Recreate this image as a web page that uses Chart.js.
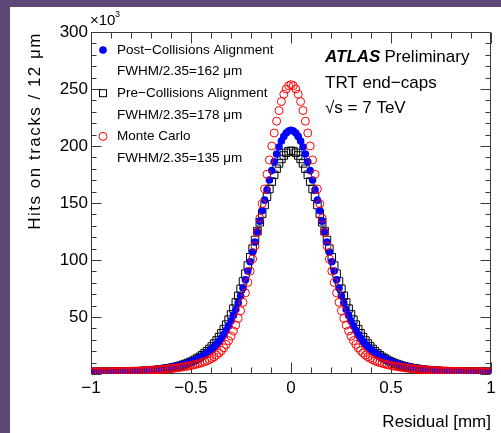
<!DOCTYPE html>
<html>
<head>
<meta charset="utf-8">
<script src="https://cdn.jsdelivr.net/npm/chart.js@4.4.0/dist/chart.umd.min.js"></script>
<style>
  html, body { margin:0; padding:0; background:#fff; }
  body { width:501px; height:433px; overflow:hidden; position:relative; }
  #wrap { position:absolute; left:0; top:0; width:491px; height:426px; background:#fff;
          border-left:10px solid #5f4878; border-top:7px solid #5f4878; }
  canvas { display:block; }
</style>
</head>
<body>
<div id="wrap"><canvas id="c" width="491" height="426"></canvas></div>
<script>
// ====== DATA (x10^3 hits per 12 um bin) ======
const residual = [-0.996,-0.984,-0.972,-0.96,-0.948,-0.936,-0.924,-0.912,-0.9,-0.888,-0.876,-0.864,-0.852,-0.84,-0.828,-0.816,-0.804,-0.792,-0.78,-0.768,-0.756,-0.744,-0.732,-0.72,-0.708,-0.696,-0.684,-0.672,-0.66,-0.648,-0.636,-0.624,-0.612,-0.6,-0.588,-0.576,-0.564,-0.552,-0.54,-0.528,-0.516,-0.504,-0.492,-0.48,-0.468,-0.456,-0.444,-0.432,-0.42,-0.408,-0.396,-0.384,-0.372,-0.36,-0.348,-0.336,-0.324,-0.312,-0.3,-0.288,-0.276,-0.264,-0.252,-0.24,-0.228,-0.216,-0.204,-0.192,-0.18,-0.168,-0.156,-0.144,-0.132,-0.12,-0.108,-0.096,-0.084,-0.072,-0.06,-0.048,-0.036,-0.024,-0.012,
  0,
  0.012,0.024,0.036,0.048,0.06,0.072,0.084,0.096,0.108,0.12,0.132,0.144,0.156,0.168,0.18,0.192,0.204,0.216,0.228,0.24,0.252,0.264,0.276,0.288,0.3,0.312,0.324,0.336,0.348,0.36,0.372,0.384,0.396,0.408,0.42,0.432,0.444,0.456,0.468,0.48,0.492,0.504,0.516,0.528,0.54,0.552,0.564,0.576,0.588,0.6,0.612,0.624,0.636,0.648,0.66,0.672,0.684,0.696,0.708,0.72,0.732,0.744,0.756,0.768,0.78,0.792,0.804,0.816,0.828,0.84,0.852,0.864,0.876,0.888,0.9,0.912,0.924,0.936,0.948,0.96,0.972,0.984,0.996];

const postAlign = [1.9,1.9,1.9,1.9, 1.9,1.9,1.9,2.0,2.0,2.0,2.0,2.1,2.1,2.2, 2.2,2.3,2.4,2.4,2.5,2.6,2.7,2.9,3.0,3.1,
  3.3,3.5,3.7,3.9,4.2,4.4,4.7,5.1,5.4,5.8, 6.2,6.7,7.2,7.7,8.3,9.0,9.7,10.4,11.2,12.2,
  13.2,14.3,15.5,16.8,18.3,20.0,21.8,23.8,26.1,28.7, 31.5,34.7,38.3,42.2,46.5,51.4,56.6,62.4,68.6,75.4,
  82.6,90.3,98.5,107.0,115.8,124.9,134.1,143.3,152.5,161.5, 170.2,178.4,186.1,193.0,199.1,204.3,208.4,211.4,213.2,
  213.8,
  213.2,211.4,208.4,204.3,199.1,193.0,186.1,178.4,170.2, 161.5,152.5,143.3,134.1,124.9,115.8,107.0,98.5,90.3,82.6,
  75.4,68.6,62.4,56.6,51.4,46.5,42.2,38.3,34.7,31.5, 28.7,26.1,23.8,21.8,20.0,18.3,16.8,15.5,14.3,13.2,
  12.2,11.2,10.4,9.7,9.0,8.3,7.7,7.2,6.7,6.2, 5.8,5.4,5.1,4.7,4.4,4.2,3.9,3.7,3.5,3.3,
  3.1,3.0,2.9,2.7,2.6,2.5,2.4,2.4,2.3,2.2, 2.2,2.1,2.1,2.0,2.0,2.0,2.0,1.9,1.9,1.9, 1.9,1.9,1.9,1.9];

const preAlign = [1.8,1.8,1.9,1.9, 1.9,1.9,1.9,1.9,1.9,2.0,2.0,2.0,2.0,2.1, 2.1,2.2,2.2,2.3,2.4,2.4,2.5,2.6,2.8,2.9,
  3.0,3.2,3.4,3.6,3.8,4.1,4.4,4.7,5.0,5.4, 5.9,6.3,6.8,7.4,8.1,8.8,9.6,10.5,11.4,12.5,
  13.7,15.0,16.5,18.1,20.0,22.0,24.2,26.7,29.4,32.4, 35.7,39.4,43.3,47.7,52.3,57.4,62.8,68.6,74.7,81.2,
  88.0,95.1,102.4,110.0,117.6,125.4,133.1,140.7,148.2,155.5, 162.3,168.8,174.7,180.1,184.7,188.6,191.7,194.0,195.4,
  195.8,
  195.4,194.0,191.7,188.6,184.7,180.1,174.7,168.8,162.3, 155.5,148.2,140.7,133.1,125.4,117.6,110.0,102.4,95.1,88.0,
  81.2,74.7,68.6,62.8,57.4,52.3,47.7,43.3,39.4,35.7, 32.4,29.4,26.7,24.2,22.0,20.0,18.1,16.5,15.0,13.7,
  12.5,11.4,10.5,9.6,8.8,8.1,7.4,6.8,6.3,5.9, 5.4,5.0,4.7,4.4,4.1,3.8,3.6,3.4,3.2,3.0,
  2.9,2.8,2.6,2.5,2.4,2.4,2.3,2.2,2.2,2.1, 2.1,2.0,2.0,2.0,2.0,1.9,1.9,1.9,1.9,1.9, 1.9,1.9,1.8,1.8];

const monteCarlo = [1.9,1.9,1.9,1.9, 2.0,2.0,2.0,2.0,2.0,2.1,2.1,2.2,2.2,2.2, 2.3,2.3,2.4,2.5,2.6,2.6,2.7,2.8,2.9,3.0,
  3.2,3.3,3.4,3.6,3.8,3.9,4.1,4.3,4.6,4.8, 5.0,5.3,5.6,5.9,6.2,6.6,6.9,7.3,7.8,8.3,
  8.8,9.4,10.0,10.8,11.6,12.6,13.7,15.1,16.6,18.4, 20.5,23.0,25.9,29.3,33.2,37.7,42.9,48.8,55.5,62.9,
  71.2,80.3,90.2,100.9,112.2,124.2,136.6,149.4,162.3,175.2, 187.8,200.0,211.4,221.8,231.1,239.0,245.4,250.0,252.9,
  253.8,
  252.9,250.0,245.4,239.0,231.1,221.8,211.4,200.0,187.8, 175.2,162.3,149.4,136.6,124.2,112.2,100.9,90.2,80.3,71.2,
  62.9,55.5,48.8,42.9,37.7,33.2,29.3,25.9,23.0,20.5, 18.4,16.6,15.1,13.7,12.6,11.6,10.8,10.0,9.4,8.8,
  8.3,7.8,7.3,6.9,6.6,6.2,5.9,5.6,5.3,5.0, 4.8,4.6,4.3,4.1,3.9,3.8,3.6,3.4,3.3,3.2,
  3.0,2.9,2.8,2.7,2.6,2.6,2.5,2.4,2.3,2.3, 2.2,2.2,2.2,2.1,2.1,2.0,2.0,2.0,2.0,2.0, 1.9,1.9,1.9,1.9];

// axis ticks
const xMajorTicks = [-1, -0.5, 0, 0.5, 1];
const xMinorTicks = [-0.9,-0.8,-0.7,-0.6,-0.4,-0.3,-0.2,-0.1,0.1,0.2,0.3,0.4,0.6,0.7,0.8,0.9];
const yMajorTicks = [0, 50, 100, 150, 200, 250, 300];
const yMinorTicks = [10,20,30,40,60,70,80,90,110,120,130,140,160,170,180,190,210,220,230,240,260,270,280,290];

const yTitle = 'Hits on tracks / 12 \u03bcm';
const legendLines = ['Post\u2212Collisions Alignment', 'FWHM/2.35=162 \u03bcm',
                     'Pre\u2212Collisions Alignment', 'FWHM/2.35=178 \u03bcm',
                     'Monte Carlo', 'FWHM/2.35=135 \u03bcm'];

// ====== HELPERS ======
const FONT = '"Liberation Sans", Arial, Helvetica, sans-serif';
const byId = (id) => document.getElementById(id);
const pts = (ys) => residual.map((x, i) => ({ x, y: ys[i] }));
const fmtX = (v) => v < 0 ? '\u2212' + Math.abs(v) : String(v);

// ROOT-like frame: box + inward ticks on all four sides
const rootFrame = {
  id: 'rootFrame',
  beforeDatasetsDraw(chart){
    const ctx = chart.ctx, xs = chart.scales.x, ys = chart.scales.y;
    const { left, right, top, bottom } = chart.chartArea;
    const L = Math.round(left) + 0.5, R = Math.round(right) - 0.5;
    const T = Math.round(top) + 0.5, B = Math.round(bottom) - 0.5;
    ctx.save();
    ctx.strokeStyle = '#3a3a3a'; ctx.lineWidth = 1;
    ctx.beginPath();
    ctx.rect(L, T, R - L, B - T);
    const vt = (v, len) => {
      const p = Math.round(xs.getPixelForValue(v)) + 0.5;
      ctx.moveTo(p, B); ctx.lineTo(p, B - len);
      ctx.moveTo(p, T); ctx.lineTo(p, T + len);
    };
    const ht = (v, len) => {
      const p = Math.round(ys.getPixelForValue(v)) + 0.5;
      ctx.moveTo(L, p); ctx.lineTo(L + len, p);
      ctx.moveTo(R, p); ctx.lineTo(R - len, p);
    };
    xMajorTicks.forEach(v => vt(v, 11));
    xMinorTicks.forEach(v => vt(v, 6));
    yMajorTicks.forEach(v => ht(v, 10));
    yMinorTicks.forEach(v => ht(v, 5));
    ctx.stroke();
    ctx.restore();
  },
  afterDraw(chart){
    const ctx = chart.ctx;
    const { top } = chart.chartArea;
    ctx.save();
    ctx.fillStyle = '#000';

    // y title, right-aligned to the top of the frame (ROOT style, wide spacing)
    ctx.save();
    ctx.translate(25, top);
    ctx.rotate(-Math.PI / 2);
    ctx.font = `17px ${FONT}`;
    ctx.letterSpacing = '1.5px';
    ctx.textAlign = 'right'; ctx.textBaseline = 'middle';
    ctx.fillText(yTitle, 0, 0);
    ctx.restore();

    // x10^3 exponent
    ctx.textBaseline = 'alphabetic'; ctx.textAlign = 'left';
    ctx.font = `15px ${FONT}`;
    ctx.fillText('\u00d710', 80, 18);
    ctx.font = `9px ${FONT}`;
    ctx.fillText('3', 105, 10);

    // legend
    const mx = 93, rows = [43, 64.6, 86.2, 107.8, 129.4, 151];
    ctx.font = `13.5px ${FONT}`;
    ctx.textBaseline = 'middle';
    legendLines.forEach((t, i) => ctx.fillText(t, 107, rows[i]));
    ctx.fillStyle = '#0000ff';
    ctx.beginPath(); ctx.arc(mx, rows[0], 3.8, 0, Math.PI * 2); ctx.fill();
    ctx.strokeStyle = '#000'; ctx.lineWidth = 1;
    ctx.strokeRect(mx - 3.5, rows[2] - 3.5, 7, 7);
    ctx.strokeStyle = '#ff0000';
    ctx.beginPath(); ctx.arc(mx, rows[4], 4, 0, Math.PI * 2); ctx.stroke();

    // ATLAS label
    ctx.fillStyle = '#000';
    ctx.textBaseline = 'alphabetic';
    ctx.font = `italic bold 17px ${FONT}`;
    ctx.fillText('ATLAS', 315, 54.5);
    const w = ctx.measureText('ATLAS').width;
    ctx.font = `17px ${FONT}`;
    ctx.fillText('Preliminary', 315 + w + 4, 54.5);
    ctx.fillText('TRT end\u2212caps', 315, 80.5);
    ctx.fillText('\u221as = 7 TeV', 315, 106);
    ctx.restore();
  }
};

// ====== CHART ======
const chart = new Chart(byId('c'), {
  type: 'scatter',
  data: {
    datasets: [
      { label: 'Monte Carlo', data: pts(monteCarlo), order: 1,
        pointStyle: 'circle', pointRadius: 4, pointBorderWidth: 1,
        pointBorderColor: '#ff0000', pointBackgroundColor: 'rgba(0,0,0,0)' },
      { label: 'Post-Collisions Alignment', data: pts(postAlign), order: 2,
        pointStyle: 'circle', pointRadius: 3.8, pointBorderWidth: 0,
        pointBorderColor: '#0000ff', pointBackgroundColor: '#0000ff' },
      { label: 'Pre-Collisions Alignment', data: pts(preAlign), order: 3,
        pointStyle: 'rect', pointRadius: 5.3, pointBorderWidth: 1,
        pointBorderColor: '#000', pointBackgroundColor: 'rgba(0,0,0,0)' }
    ]
  },
  options: {
    responsive: false, animation: false, devicePixelRatio: 1,
    layout: { padding: { top: 25, right: 10, left: 0, bottom: 0 } },
    plugins: { legend: { display: false }, tooltip: { enabled: false } },
    scales: {
      x: {
        type: 'linear', min: -1, max: 1,
        grid: { display: false, drawTicks: false }, border: { display: false },
        ticks: { stepSize: 0.5, autoSkip: false, maxRotation: 0, padding: 4, color: '#000',
                 font: { family: FONT, size: 17 }, callback: (v) => fmtX(v) },
        title: { display: true, text: 'Residual [mm]', align: 'end', color: '#000',
                 font: { family: FONT, size: 17 }, padding: { top: 2, bottom: 0 } },
        afterFit: (s) => { s.height = 59; s.paddingLeft = 0; s.paddingRight = 0; }
      },
      y: {
        min: 0, max: 300,
        grid: { display: false, drawTicks: false }, border: { display: false },
        ticks: { stepSize: 50, padding: 3, color: '#000',
                 font: { family: FONT, size: 17 }, callback: (v) => v === 0 ? '' : v },
        title: { display: false },
        afterFit: (s) => { s.width = 81; }
      }
    }
  },
  plugins: [rootFrame]
});
</script>
</body>
</html>
